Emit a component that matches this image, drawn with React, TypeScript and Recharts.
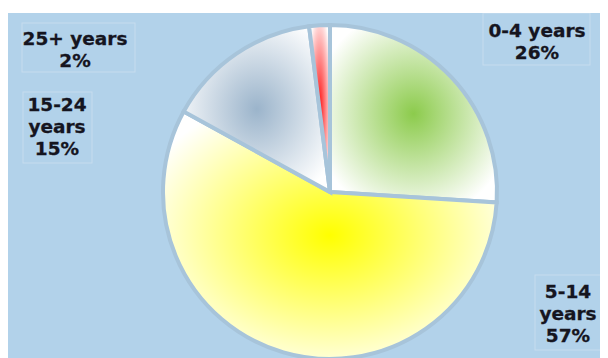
import { PieChart, Pie, Cell } from 'recharts';

const categories = ['0-4 years', '5-14 years', '15-24 years', '25+ years'];
const shares = [26, 57, 15, 2];

const COLORS = ['#8ccb4c', '#ffff00', '#9bb4cb', '#ff1010'];

// label boxes sit in the corners, one per slice (same order as the data)
const BOXES = [
  { x: 475, y: 0, w: 107, h: 52, tx: 529, ty: 17, wrap: false },
  { x: 527, y: 262, w: 67, h: 75, tx: 560, ty: 278, wrap: true },
  { x: 15, y: 79, w: 69, h: 71, tx: 49, ty: 91, wrap: true },
  { x: 14, y: 10, w: 113, h: 49, tx: 67, ty: 25, wrap: false },
];

const data = categories.map((name, i) => ({ name, value: shares[i] }));
const total = shares.reduce((a, b) => a + b, 0);

const renderLabel = (props: any) => {
  const { index } = props;
  const box = BOXES[index];
  const pct = Math.round((data[index].value / total) * 100) + '%';
  const parts = data[index].name.split(' ');
  const lines = box.wrap ? [...parts, pct] : [data[index].name, pct];
  return (
    <g key={`lbl-${index}`}>
      <rect x={box.x} y={box.y} width={box.w} height={box.h} fill="none" stroke="#c6dcee" strokeWidth={1} />
      {lines.map((t, j) => (
        <text
          key={j}
          x={box.tx}
          y={box.ty + j * 22}
          textAnchor="middle"
          dominantBaseline="central"
          fontFamily="'DejaVu Sans', Verdana, sans-serif"
          fontWeight="bold"
          fontSize={18.5}
          fill="#15151f"
          stroke="#15151f"
          strokeWidth={0.3}
        >
          {t}
        </text>
      ))}
    </g>
  );
};

export default function App() {
  return (
    <div style={{ marginTop: 5, width: 600, height: 345, background: '#b2d2ea' }}>
      <PieChart width={600} height={345}>
        <defs>
          {COLORS.map((c, i) => (
            <radialGradient key={i} id={`grad-${i}`} cx="50%" cy="50%" r="60%">
              <stop offset="0%" stopColor={c} />
              <stop offset="100%" stopColor="#ffffff" />
            </radialGradient>
          ))}
        </defs>
        <Pie
          data={data}
          dataKey="value"
          cx={317}
          cy={174}
          outerRadius={167}
          startAngle={90}
          endAngle={-270}
          stroke="#a7c4da"
          strokeWidth={4}
          label={renderLabel}
          labelLine={false}
          isAnimationActive={false}
        >
          {data.map((entry, index) => (
            <Cell key={`cell-${index}`} fill={`url(#grad-${index})`} />
          ))}
        </Pie>
      </PieChart>
    </div>
  );
}
